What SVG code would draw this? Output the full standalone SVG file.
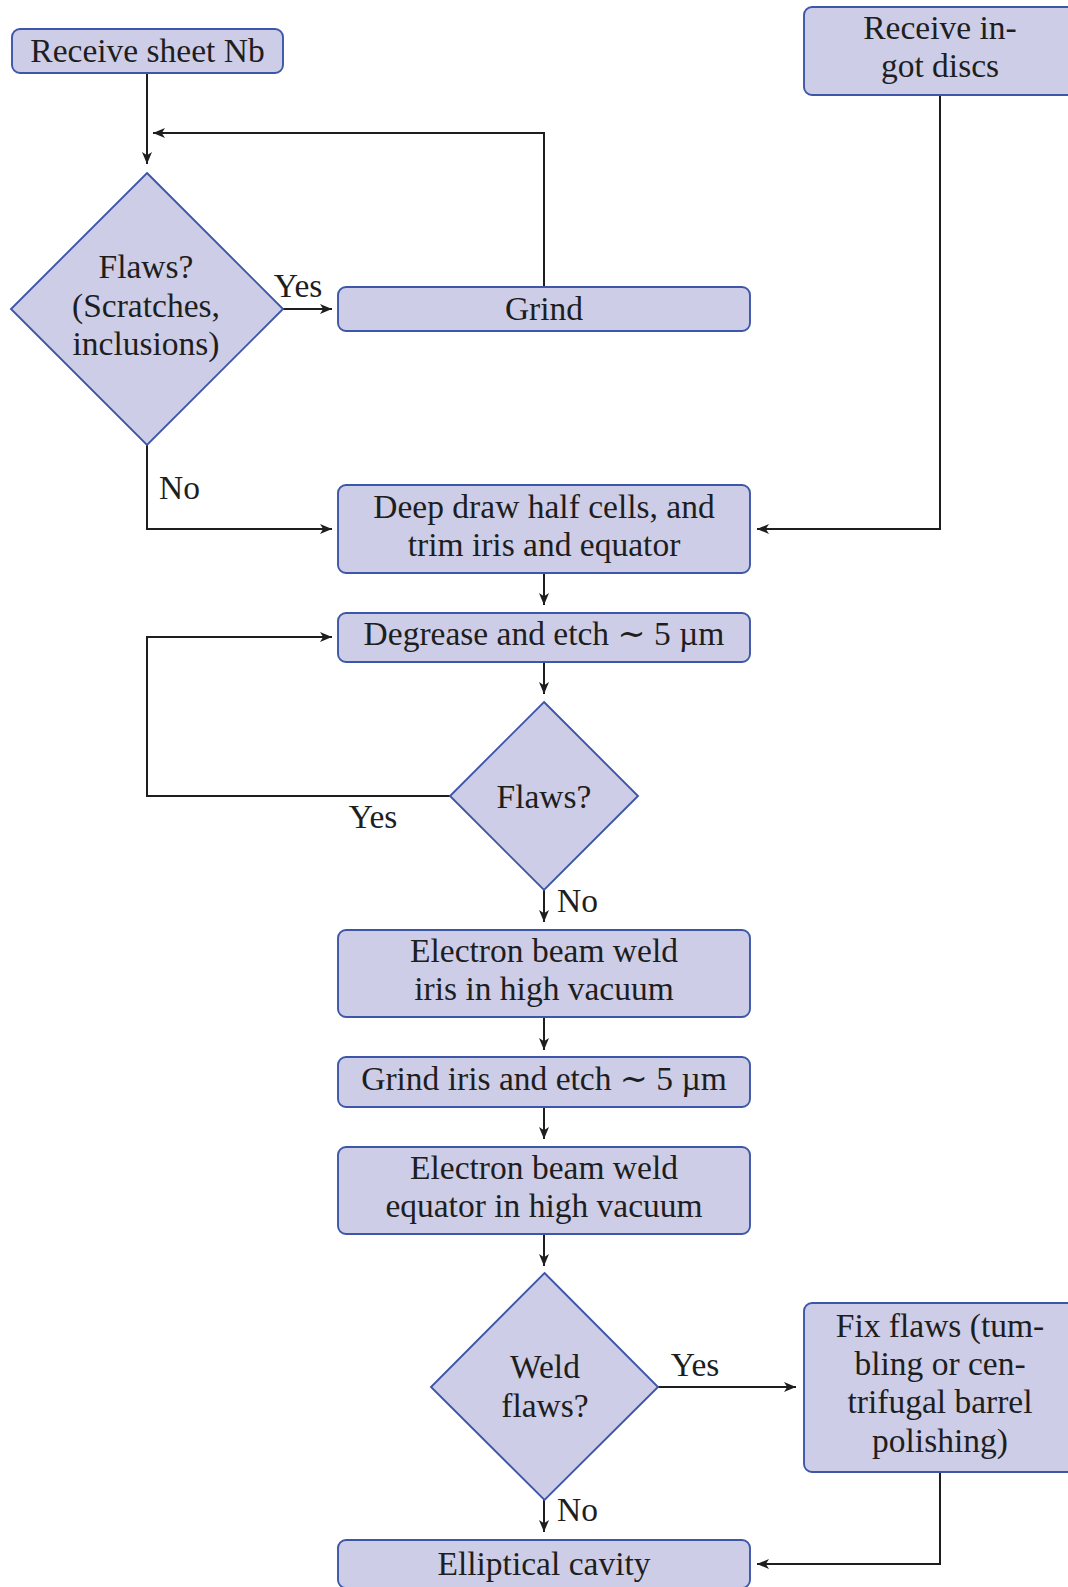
<svg xmlns="http://www.w3.org/2000/svg" width="1068" height="1587" viewBox="0 0 1068 1587">
<style>
.box{fill:#cdcde7;stroke:#3d56a8;stroke-width:1.9}
.t{font-family:"Liberation Serif","DejaVu Serif",serif;font-size:33.5px;fill:#1e1e1e;text-anchor:middle}
.l{font-family:"Liberation Serif","DejaVu Serif",serif;font-size:33.5px;fill:#1e1e1e}
.c{fill:none;stroke:#1e1e1e;stroke-width:2}
</style>
<defs>
<marker id="ah" markerUnits="userSpaceOnUse" markerWidth="14" markerHeight="12" viewBox="0 -6 14 12" refX="12" refY="0" orient="auto">
<path d="M0,-5 L12,0 L0,5 L3.2,0 z" fill="#1e1e1e"/>
</marker>
</defs>
<g id="connectors">
<path class="c" d="M147,73 V164" marker-end="url(#ah)"/>
<path class="c" d="M544,287 V133 H153" marker-end="url(#ah)"/>
<path class="c" d="M283,309 H332" marker-end="url(#ah)"/>
<path class="c" d="M147,445 V529 H332" marker-end="url(#ah)"/>
<path class="c" d="M940,95 V529 H757" marker-end="url(#ah)"/>
<path class="c" d="M544,573 V605" marker-end="url(#ah)"/>
<path class="c" d="M544,662 V694" marker-end="url(#ah)"/>
<path class="c" d="M450,796 H147 V637 H332" marker-end="url(#ah)"/>
<path class="c" d="M544,890 V922" marker-end="url(#ah)"/>
<path class="c" d="M544,1017 V1050" marker-end="url(#ah)"/>
<path class="c" d="M544,1107 V1139" marker-end="url(#ah)"/>
<path class="c" d="M544,1234 V1266" marker-end="url(#ah)"/>
<path class="c" d="M658,1387 H796" marker-end="url(#ah)"/>
<path class="c" d="M544,1500 V1532" marker-end="url(#ah)"/>
<path class="c" d="M940,1472 V1564 H757" marker-end="url(#ah)"/>
<text class="l" x="298" y="297" text-anchor="middle">Yes</text>
<text class="l" x="159" y="499">No</text>
<text class="l" x="373" y="828" text-anchor="middle">Yes</text>
<text class="l" x="557" y="912">No</text>
<text class="l" x="695" y="1376" text-anchor="middle">Yes</text>
<text class="l" x="557" y="1521">No</text>
</g>
<g id="receive-sheet">
<rect class="box" x="12" y="29" width="271" height="44" rx="8"/>
<text class="t" x="147.5" y="62">Receive sheet Nb</text>
</g>
<g id="receive-ingot">
<rect class="box" x="804" y="7" width="272" height="88" rx="8"/>
<text class="t" x="940" y="39">Receive in-</text>
<text class="t" x="940" y="77">got discs</text>
</g>
<g id="flaws1">
<polygon class="box" points="147,173 283,309 147,445 11,309"/>
<text class="t" x="146" y="278">Flaws?</text>
<text class="t" x="146" y="317">(Scratches,</text>
<text class="t" x="146" y="355">inclusions)</text>
</g>
<g id="grind">
<rect class="box" x="338" y="287" width="412" height="44" rx="8"/>
<text class="t" x="544" y="320">Grind</text>
</g>
<g id="deep-draw">
<rect class="box" x="338" y="485" width="412" height="88" rx="8"/>
<text class="t" x="544" y="518">Deep draw half cells, and</text>
<text class="t" x="544" y="556">trim iris and equator</text>
</g>
<g id="degrease">
<rect class="box" x="338" y="613" width="412" height="49" rx="8"/>
<text class="t" x="544" y="645">Degrease and etch ∼ 5 µm</text>
</g>
<g id="flaws2">
<polygon class="box" points="544,702 638,796 544,890 450,796"/>
<text class="t" x="544" y="808">Flaws?</text>
</g>
<g id="ebw-iris">
<rect class="box" x="338" y="930" width="412" height="87" rx="8"/>
<text class="t" x="544" y="962">Electron beam weld</text>
<text class="t" x="544" y="1000">iris in high vacuum</text>
</g>
<g id="grind-iris">
<rect class="box" x="338" y="1057" width="412" height="50" rx="8"/>
<text class="t" x="544" y="1090">Grind iris and etch ∼ 5 µm</text>
</g>
<g id="ebw-equator">
<rect class="box" x="338" y="1147" width="412" height="87" rx="8"/>
<text class="t" x="544" y="1179">Electron beam weld</text>
<text class="t" x="544" y="1217">equator in high vacuum</text>
</g>
<g id="weld-flaws">
<polygon class="box" points="544.5,1273 658,1387 544.5,1500 431,1387"/>
<text class="t" x="545" y="1378">Weld</text>
<text class="t" x="545" y="1417">flaws?</text>
</g>
<g id="fix-flaws">
<rect class="box" x="804" y="1303" width="272" height="169" rx="8"/>
<text class="t" x="940" y="1337">Fix flaws (tum-</text>
<text class="t" x="940" y="1375">bling or cen-</text>
<text class="t" x="940" y="1413">trifugal barrel</text>
<text class="t" x="940" y="1452">polishing)</text>
</g>
<g id="elliptical-cavity">
<rect class="box" x="338" y="1540" width="412" height="48" rx="8"/>
<text class="t" x="544" y="1575">Elliptical cavity</text>
</g>
</svg>
